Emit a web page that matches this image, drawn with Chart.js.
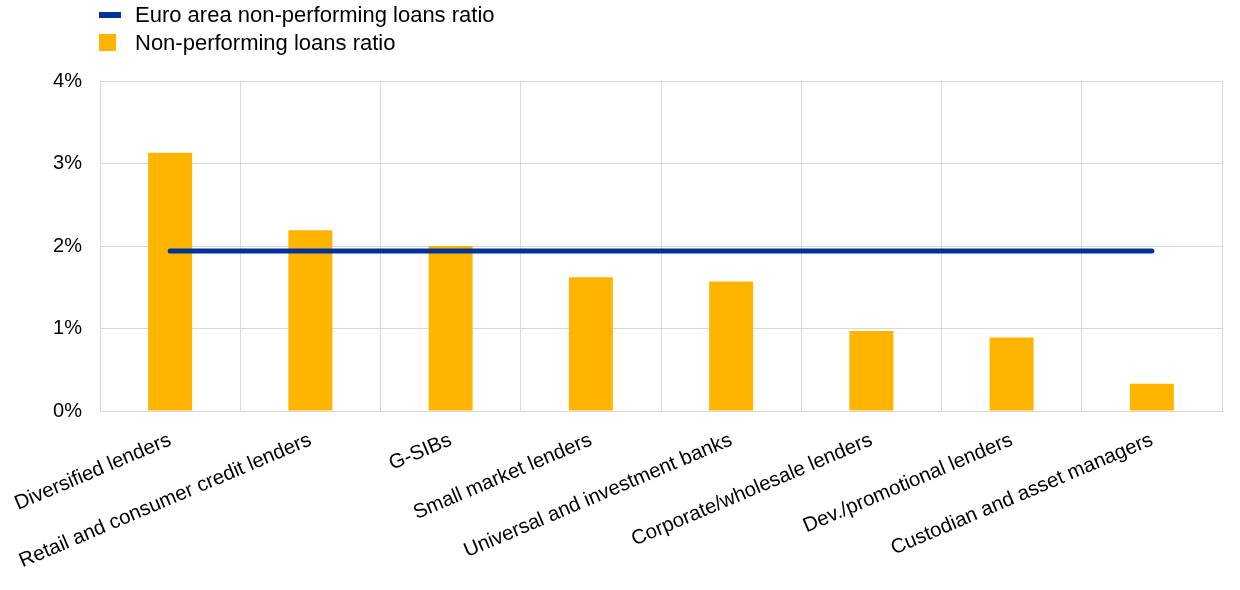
<!DOCTYPE html>
<html>
<head>
<meta charset="utf-8">
<script src="https://cdn.jsdelivr.net/npm/chart.js@4/dist/chart.umd.min.js"></script>
<style>
  html, body { margin: 0; padding: 0; background: #fff; }
  #wrap { position: relative; width: 1240px; height: 590px; }
  #legend { position: absolute; left: 99px; top: 1px; font-family: "Liberation Sans", Arial, sans-serif; font-size: 22px; color: #000; z-index: 2; }
  #legend div { height: 28px; line-height: 28px; position: relative; padding-left: 36px; }
  #legend span.mk { position: absolute; left: 0; }
  canvas { position: absolute; left: 0; top: 0; }
</style>
</head>
<body>
<div id="wrap">
  <div id="legend">
    <div><span class="mk" style="top:11px;width:22px;height:6px;background:#003299"></span>Euro area non-performing loans ratio</div>
    <div><span class="mk" style="top:5px;width:17px;height:17px;background:#FFB400"></span>Non-performing loans ratio</div>
  </div>
  <canvas id="myChart" width="1240" height="590"></canvas>
</div>
<script>
const categories = ['Diversified lenders', 'Retail and consumer credit lenders', 'G-SIBs', 'Small market lenders',
  'Universal and investment banks', 'Corporate/wholesale lenders', 'Dev./promotional lenders', 'Custodian and asset managers'];
const nplRatio = [3.13, 2.19, 2.00, 1.62, 1.57, 0.97, 0.89, 0.33];
const euroAreaRatio = [1.94, 1.94, 1.94, 1.94, 1.94, 1.94, 1.94, 1.94];
const yTicks = [0, 1, 2, 3, 4];

const fontFamily = '"Liberation Sans", Arial, sans-serif';
const gridColor = '#d9d9d9';

const ctx = document.getElementById('myChart');
new Chart(ctx, {
  data: {
    labels: categories,
    datasets: [
      {
        type: 'line',
        label: 'Euro area non-performing loans ratio',
        data: euroAreaRatio,
        borderColor: '#003299',
        borderWidth: 5,
        borderCapStyle: 'round',
        pointRadius: 0,
        order: 0
      },
      {
        type: 'bar',
        label: 'Non-performing loans ratio',
        data: nplRatio,
        backgroundColor: '#FFB400',
        barPercentage: 0.314,
        categoryPercentage: 1,
        order: 1
      }
    ]
  },
  options: {
    responsive: false,
    animation: false,
    layout: { padding: { top: 81, right: 18, left: 0, bottom: 0 } },
    plugins: { legend: { display: false }, tooltip: { enabled: false } },
    scales: {
      x: {
        grid: { color: gridColor, drawTicks: false, offset: true },
        border: { color: gridColor },
        ticks: { color: '#000', font: { family: fontFamily, size: 20.4 }, minRotation: 23, maxRotation: 23, padding: 17, autoSkip: false },
        afterFit: s => { s.height = 179; s.paddingLeft = 0; s.paddingRight = 0; }
      },
      y: {
        min: 0,
        max: 4,
        afterBuildTicks: s => { s.ticks = yTicks.map(v => ({ value: v })); },
        grid: { color: gridColor, drawTicks: false },
        border: { color: gridColor },
        ticks: { color: '#000', font: { family: fontFamily, size: 20 }, padding: 18, callback: v => v + '%' },
        afterFit: s => { s.width = 100; }
      }
    }
  },
  plugins: [{
    id: 'frame',
    afterDraw(chart) {
      const a = chart.chartArea, c = chart.ctx;
      c.save();
      c.strokeStyle = gridColor;
      c.lineWidth = 1;
      c.beginPath();
      c.moveTo(a.right + 0.5, a.top);
      c.lineTo(a.right + 0.5, a.bottom);
      c.moveTo(a.left, a.top + 0.5);
      c.lineTo(a.right, a.top + 0.5);
      c.stroke();
      c.restore();
    }
  }]
});
</script>
</body>
</html>
